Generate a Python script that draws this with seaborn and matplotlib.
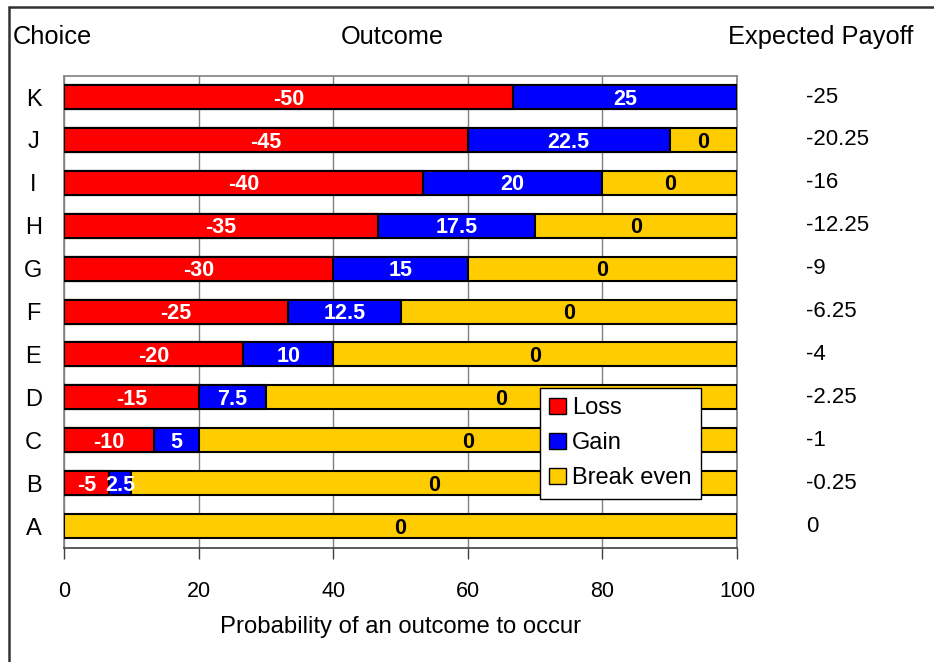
import matplotlib
matplotlib.use("Agg")
import matplotlib.pyplot as plt
from matplotlib.patches import Patch
from matplotlib.lines import Line2D
import matplotlib.transforms as mtransforms
import seaborn as sns
import pandas as pd

# Choices from top to bottom
choices = ["K", "J", "I", "H", "G", "F", "E", "D", "C", "B", "A"]
# Probability (%) of each outcome
loss_prob = [66.67, 60.0, 53.33, 46.67, 40.0, 33.33, 26.67, 20.0, 13.33, 6.67, 0.0]
gain_prob = [33.33, 30.0, 26.67, 23.33, 20.0, 16.67, 13.33, 10.0, 6.67, 3.33, 0.0]
even_prob = [0.0, 10.0, 20.0, 30.0, 40.0, 50.0, 60.0, 70.0, 80.0, 90.0, 100.0]
# Payoff of each outcome
loss_value = ["-50", "-45", "-40", "-35", "-30", "-25", "-20", "-15", "-10", "-5", ""]
gain_value = ["25", "22.5", "20", "17.5", "15", "12.5", "10", "7.5", "5", "2.5", ""]
even_value = ["", "0", "0", "0", "0", "0", "0", "0", "0", "0", "0"]
expected_payoff = ["-25", "-20.25", "-16", "-12.25", "-9", "-6.25", "-4", "-2.25", "-1", "-0.25", "0"]

RED, BLUE, YELLOW = "#FF0000", "#0000FF", "#FFCC00"

sns.set_theme(style="white")
plt.rcParams["font.family"] = ["Liberation Sans", "DejaVu Sans"]
plt.rcParams["text.color"] = "black"

df = pd.DataFrame({
    "choice": choices,
    "loss": loss_prob,
    "gain": gain_prob,
    "even": even_prob,
})
df["loss_gain"] = df["loss"] + df["gain"]
df["total"] = df["loss_gain"] + df["even"]

fig = plt.figure(figsize=(9.34, 6.62), dpi=100)
ax = fig.add_axes([64 / 934, 1 - 548 / 662, (737 - 64) / 934, (548 - 76) / 662])

# Stacked bars: draw cumulative totals back to front
bar_kw = dict(orient="h", order=choices, width=0.56, edgecolor="black",
              linewidth=1.5, ax=ax, zorder=3)
sns.barplot(data=df, x="total", y="choice", color=YELLOW, saturation=1, **bar_kw)
sns.barplot(data=df, x="loss_gain", y="choice", color=BLUE, saturation=1, **bar_kw)
sns.barplot(data=df, x="loss", y="choice", color=RED, saturation=1, **bar_kw)

# Hide zero-width segments' edges
for p in ax.patches:
    if p.get_width() <= 0:
        p.set_visible(False)

# Segment labels
lab_kw = dict(ha="center", va="center", fontsize=15.5, fontweight="bold", zorder=5)
for i in range(len(choices)):
    l, g, e = loss_prob[i], gain_prob[i], even_prob[i]
    if loss_value[i]:
        ax.text(l / 2, i + 0.05, loss_value[i], color="white", **lab_kw)
    if gain_value[i]:
        ax.text(l + g / 2, i + 0.05, gain_value[i], color="white", **lab_kw)
    if even_value[i]:
        ax.text(l + g + e / 2, i + 0.05, even_value[i], color="black", **lab_kw)

ax.set_xlim(0, 100)
ax.set_ylim(10.51, -0.49)
ax.set_xticks([0, 20, 40, 60, 80, 100])
ax.set_xticklabels(["0", "20", "40", "60", "80", "100"], fontsize=15.5)
ax.xaxis.grid(True, color="#808080", linewidth=1)
ax.set_axisbelow(True)
ax.tick_params(axis="x", bottom=True, direction="out", length=8, width=1,
               color="#404040", pad=16, labelcolor="black")
ax.tick_params(axis="y", left=False, length=0, pad=22, labelsize=17, labelcolor="black")
for lbl in ax.get_yticklabels():
    lbl.set_ha("center")
ax.set_ylabel("")
ax.set_xlabel("Probability of an outcome to occur", fontsize=17.2, labelpad=10, color="black")

for side in ["top", "right", "left"]:
    ax.spines[side].set_color("#808080")
    ax.spines[side].set_linewidth(1.2)
ax.spines["bottom"].set_color("#404040")
ax.spines["bottom"].set_linewidth(1.2)

# Expected payoff column
trans = mtransforms.blended_transform_factory(fig.transFigure, ax.transData)
for i, v in enumerate(expected_payoff):
    ax.text(806 / 934, i, v, transform=trans, ha="left", va="center",
            fontsize=16, color="black", clip_on=False)

# Column headers
head_y = 1 - 37 / 662
fig.text(13 / 934, head_y, "Choice", ha="left", va="center", fontsize=18.3)
fig.text(392 / 934, head_y, "Outcome", ha="center", va="center", fontsize=18.3)
fig.text(913 / 934, head_y, "Expected Payoff", ha="right", va="center", fontsize=18.3)

# Legend
handles = [Patch(facecolor=RED, edgecolor="black", label="Loss"),
           Patch(facecolor=BLUE, edgecolor="black", label="Gain"),
           Patch(facecolor=YELLOW, edgecolor="black", label="Break even")]
leg = ax.legend(handles=handles, loc="upper left", bbox_to_anchor=(0.707, 0.339),
                fontsize=17, frameon=True, fancybox=False, framealpha=1,
                edgecolor="black", handlelength=0.7, handleheight=0.7,
                handletextpad=0.25, labelspacing=0.55, borderpad=0.4,
                borderaxespad=0)
leg.get_frame().set_linewidth(1)
leg.set_zorder(10)

# Outer frame (left and top edges)
fig.add_artist(Line2D([9 / 934, 9 / 934], [0, 1 - 7 / 662], transform=fig.transFigure,
                      color="#333333", linewidth=1.8))
fig.add_artist(Line2D([9 / 934, 1], [1 - 7 / 662, 1 - 7 / 662], transform=fig.transFigure,
                      color="#333333", linewidth=1.8))

fig.savefig("out.png", dpi=100)
